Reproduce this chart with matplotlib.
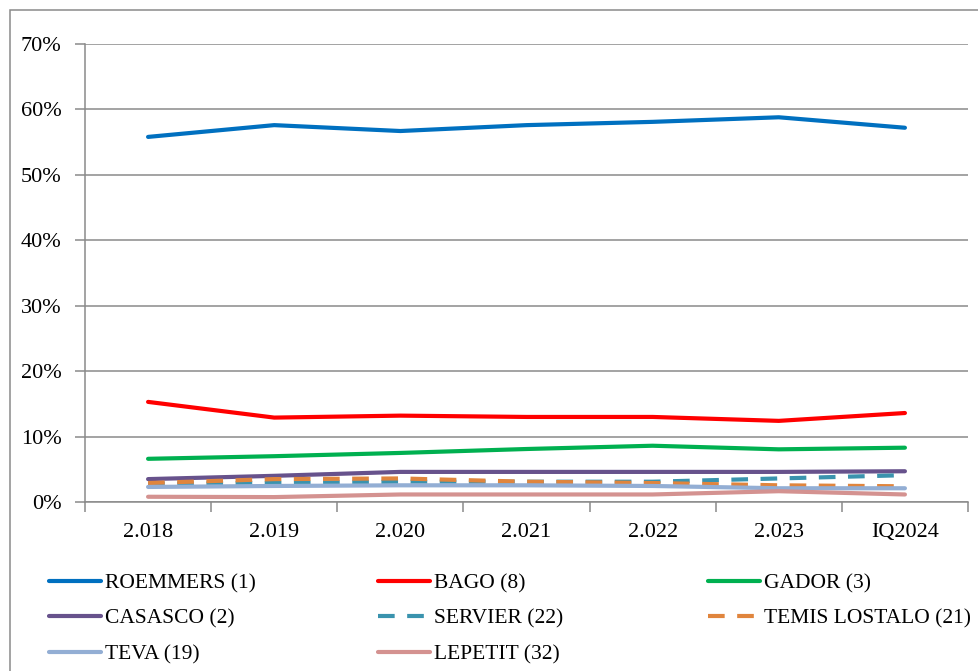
import matplotlib
matplotlib.use("Agg")
import matplotlib.pyplot as plt
from matplotlib.patches import Rectangle

plt.rcParams['font.family'] = ['Liberation Serif', 'DejaVu Serif']

categories = ["2.018", "2.019", "2.020", "2.021", "2.022", "2.023", "IQ2024"]

roemmers = [55.8, 57.6, 56.7, 57.6, 58.1, 58.8, 57.2]
bago = [15.3, 12.9, 13.2, 13.0, 13.0, 12.4, 13.6]
gador = [6.6, 7.0, 7.5, 8.1, 8.6, 8.05, 8.3]
casasco = [3.5, 4.0, 4.6, 4.6, 4.6, 4.6, 4.7]
servier = [2.8, 2.9, 3.1, 3.1, 3.1, 3.6, 4.1]
temis = [2.9, 3.5, 3.6, 3.1, 2.9, 2.55, 2.4]
teva = [2.3, 2.45, 2.55, 2.55, 2.45, 2.1, 2.1]
lepetit = [0.8, 0.75, 1.15, 1.15, 1.15, 1.65, 1.15]

series_names = ["ROEMMERS (1)", "BAGO (8)", "GADOR (3)", "CASASCO (2)",
                "SERVIER (22)", "TEMIS LOSTALO (21)", "TEVA (19)", "LEPETIT (32)"]
series_values = [roemmers, bago, gador, casasco, servier, temis, teva, lepetit]
colors = ["#0070C0", "#FF0000", "#00B050", "#67528C",
          "#3A93AE", "#E0853D", "#93AED4", "#D49290"]
dashed = [False, False, False, False, True, True, False, False]

fig = plt.figure(figsize=(9.79, 6.71), dpi=100)
W, H = 979, 671
ax = fig.add_axes([85 / W, (H - 502) / H, (968 - 85) / W, (502 - 44) / H])

grid_c = "#8a8a8a"
x = list(range(len(categories)))
handles = []
for name, vals, c, d in zip(series_names, series_values, colors, dashed):
    ls = (0, (4, 3)) if d else '-'
    ln, = ax.plot(x, vals, color=c, lw=3.0, ls=ls, label=name,
                  solid_capstyle='round', dash_capstyle='butt')
    handles.append(ln)

ax.set_xlim(-0.5, len(categories) - 0.5)
ax.set_ylim(0, 70)
ax.set_yticks(range(0, 71, 10))
ax.set_yticklabels([f"{v}%" for v in range(0, 71, 10)])
ax.set_xticks(x)
ax.set_xticklabels(categories)
ax.set_xticks([i - 0.5 for i in range(len(categories) + 1)], minor=True)
ax.tick_params(axis='x', which='major', length=0, pad=15, labelsize=16)
ax.tick_params(axis='x', which='minor', length=7, width=1.1, color=grid_c, direction='out')
ax.tick_params(axis='y', length=7, width=1.1, color=grid_c, pad=10, labelsize=16)
ax.yaxis.grid(True, color=grid_c, lw=1.1)
ax.set_axisbelow(True)
for s in ['top', 'right']:
    ax.spines[s].set_visible(False)
for s in ['left', 'bottom']:
    ax.spines[s].set_color(grid_c)
    ax.spines[s].set_linewidth(1.1)

# outer chart border
fig.patches.append(Rectangle((10 / W, -0.1), 1.2, (H - 10) / H + 0.1,
                             transform=fig.transFigure, fill=False,
                             edgecolor=grid_c, lw=1.1))

# legend: three columns, row-major order
col_x = [49 / W, 378 / W, 708 / W]
for ci in range(3):
    idx = [i for i in range(len(handles)) if i % 3 == ci]
    leg = fig.legend([handles[i] for i in idx], [series_names[i] for i in idx],
                     loc='upper left', bbox_to_anchor=(col_x[ci], (H - 573) / H),
                     frameon=False, fontsize=15.5, handlelength=2.4,
                     handletextpad=0.2, labelspacing=0.72, borderaxespad=0,
                     borderpad=0)

fig.savefig("out.png", dpi=100)
